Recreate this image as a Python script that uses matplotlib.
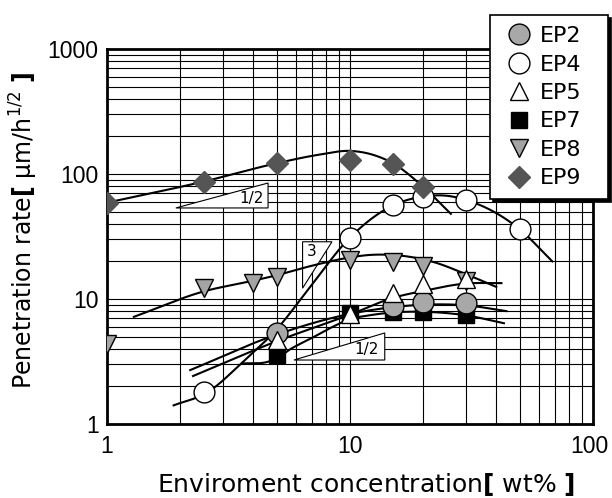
import numpy as np
import matplotlib
matplotlib.use("Agg")
import matplotlib.pyplot as plt
import matplotlib.transforms as mtransforms
from matplotlib.ticker import LogLocator, NullFormatter, FuncFormatter

# ---------------- data ----------------
ep2_x = [5, 15, 20, 30]
ep2_y = [5.35, 8.8, 9.5, 9.3]
ep4_x = [2.5, 10, 15, 20, 30, 50]
ep4_y = [1.8, 31, 56, 66, 62, 36]
ep5_x = [5, 10, 15, 20, 30]
ep5_y = [4.7, 7.6, 11.2, 13.2, 14.5]
ep7_x = [5, 10, 15, 20, 30]
ep7_y = [3.56, 7.7, 7.8, 7.9, 7.4]
ep8_x = [1, 2.5, 4, 5, 10, 15, 20, 30]
ep8_y = [4.4, 12.2, 13.4, 15.0, 20.5, 19.8, 18.3, 14.0]
ep9_x = [1, 2.5, 5, 10, 15, 20]
ep9_y = [59, 87, 122, 130, 120, 78]

# trend curves
ep2_curve_x = [2.2, 5, 10, 15, 20, 30, 44]
ep2_curve_y = [2.7, 5.2, 7.6, 8.6, 9.0, 8.9, 8.0]
ep4_curve_x = [1.88, 2.6, 3.6, 5.1, 6.7, 10, 15, 20, 25, 30, 50, 68]
ep4_curve_y = [1.41, 1.8, 3.1, 6.0, 11.8, 31, 56, 66, 67, 62, 36, 20]
ep5_curve_x = [2.26, 5, 10, 15, 20, 30, 42]
ep5_curve_y = [2.42, 4.6, 7.5, 10.2, 11.6, 13.3, 13.4]
ep7_curve_x = [3.6, 4.6, 5.0, 5.6, 7, 8.5, 10, 12, 15, 20, 30, 43]
ep7_curve_y = [3.05, 3.15, 3.35, 3.9, 4.9, 6.0, 6.9, 7.4, 7.8, 7.9, 7.4, 6.4]
ep8_curve_x = [1.29, 2.5, 4, 5, 7, 10, 12, 15, 22, 30, 40]
ep8_curve_y = [7.2, 11.5, 14.0, 15.5, 18.5, 21.5, 22.5, 22.5, 19.8, 15.8, 12.5]
ep9_curve_x = [1, 2.5, 5, 7.5, 10, 12.5, 15, 20, 26]
ep9_curve_y = [59, 87, 122, 143, 153, 142, 122, 79, 48]

series_labels = ["EP2", "EP4", "EP5", "EP7", "EP8", "EP9"]
x_ticks = [1, 10, 100]
y_ticks = [1, 10, 100, 1000]

# slope guide triangles (annotations)
guide_top_x = [1.92, 4.6, 4.6]
guide_top_y = [53.5, 84.7, 53.5]
guide_bot_x = [5.88, 13.9, 13.9]
guide_bot_y = [3.25, 5.35, 3.25]
guide_three_x = [6.38, 8.43, 6.38]
guide_three_y = [28.7, 28.7, 12.2]

plt.rcParams["font.family"] = ["DejaVu Sans"]
plt.rcParams["mathtext.fontset"] = "dejavusans"


def smooth_curve(xs, ys, n=300):
    lx = np.log10(np.asarray(xs, float))
    ly = np.log10(np.asarray(ys, float))
    m = np.gradient(ly, lx)
    t = np.linspace(lx[0], lx[-1], n)
    idx = np.clip(np.searchsorted(lx, t) - 1, 0, len(lx) - 2)
    h = lx[idx + 1] - lx[idx]
    s = (t - lx[idx]) / h
    h00 = 2 * s**3 - 3 * s**2 + 1
    h10 = s**3 - 2 * s**2 + s
    h01 = -2 * s**3 + 3 * s**2
    h11 = s**3 - s**2
    y = h00 * ly[idx] + h10 * h * m[idx] + h01 * ly[idx + 1] + h11 * h * m[idx + 1]
    return 10**t, 10**y


fig = plt.figure(figsize=(6.12, 4.98), dpi=100)
ax = fig.add_axes([107 / 612, 1 - 424 / 498, 486 / 612, 375 / 498])
ax.set_xscale("log")
ax.set_yscale("log")
ax.set_xlim(1, 100)
ax.set_ylim(1, 1000)

for axis in (ax.xaxis, ax.yaxis):
    axis.set_major_locator(LogLocator(base=10))
    axis.set_minor_locator(LogLocator(base=10, subs=np.arange(2, 10)))
    axis.set_minor_formatter(NullFormatter())
    axis.set_major_formatter(FuncFormatter(lambda v, p: f"{v:g}"))
ax.set_xticks(x_ticks)
ax.set_yticks(y_ticks)

ax.grid(True, which="both", color="black", lw=0.8)
ax.set_axisbelow(True)
ax.tick_params(which="both", length=0, labelsize=16.5)
ax.tick_params(axis="x", pad=8)
ax.tick_params(axis="y", pad=6)
for lab in ax.get_xticklabels() + ax.get_yticklabels():
    lab.set_fontfamily("Liberation Sans")
for sp in ax.spines.values():
    sp.set_linewidth(2)

# slope guides
for gx, gy in ((guide_top_x, guide_top_y), (guide_bot_x, guide_bot_y),
               (guide_three_x, guide_three_y)):
    ax.fill(gx, gy, facecolor="white", edgecolor="black", lw=0.8, zorder=2.5)
ax.text(3.95, 64, "1/2", fontsize=11, ha="center", va="center", zorder=2.6)
ax.text(11.7, 3.91, "1/2", fontsize=11, ha="center", va="center", zorder=2.6)
ax.text(6.98, 23.8, "3", fontsize=11, ha="center", va="center", zorder=2.6)

# curves
for cx, cy in ((ep2_curve_x, ep2_curve_y), (ep4_curve_x, ep4_curve_y),
               (ep5_curve_x, ep5_curve_y), (ep7_curve_x, ep7_curve_y),
               (ep8_curve_x, ep8_curve_y), (ep9_curve_x, ep9_curve_y)):
    sx, sy = smooth_curve(cx, cy)
    ax.plot(sx, sy, color="black", lw=1.5, zorder=3)

# markers
h2, = ax.plot(ep2_x, ep2_y, ls="none", marker="o", ms=15, mfc="#a8a8a8",
              mec="black", mew=1, zorder=5, label=series_labels[0])
h4, = ax.plot(ep4_x, ep4_y, ls="none", marker="o", ms=15, mfc="white",
              mec="black", mew=1, zorder=4, label=series_labels[1])
h5, = ax.plot(ep5_x, ep5_y, ls="none", marker="^", ms=13, mfc="white",
              mec="black", mew=1, zorder=6, label=series_labels[2])
h7, = ax.plot(ep7_x, ep7_y, ls="none", marker="s", ms=11, mfc="black",
              mec="black", mew=1, zorder=4.5, label=series_labels[3])
h8, = ax.plot(ep8_x, ep8_y, ls="none", marker="v", ms=13, mfc="#a4a4a4",
              mec="black", mew=1, zorder=4.2, label=series_labels[4])
h9, = ax.plot(ep9_x, ep9_y, ls="none", marker="D", ms=11.5, mfc="#555555",
              mec="#555555", mew=1, zorder=6.5, label=series_labels[5])

ax.set_xlabel("Enviroment concentration$\\mathbf{[}$ wt% $\\mathbf{]}$", fontsize=18)
ax.xaxis.set_label_coords(0.533, -0.16)
ax.xaxis.label.set_verticalalignment("center")
ax.set_ylabel("Penetration rate$\\mathbf{[}$ μm/h$^{1/2}$ $\\mathbf{]}$", fontsize=17)
ax.yaxis.set_label_coords(-0.171, 0.515)
ax.yaxis.label.set_verticalalignment("center")

leg = ax.legend(handles=[h2, h4, h5, h7, h8, h9], loc="upper left",
                bbox_to_anchor=(490 / 612, 1 - 15 / 498, 118 / 612, 0),
                bbox_transform=fig.transFigure, mode="expand", borderaxespad=0,
                fontsize=16, fancybox=False, framealpha=1, edgecolor="black",
                shadow={"color": "black", "alpha": 1}, labelspacing=0.38,
                borderpad=0.5, handlelength=1.6, handletextpad=0.15, numpoints=1)
leg.get_frame().set_linewidth(1.2)
leg.set_zorder(10)

fig.canvas.draw()
# nudge the last x tick label ("100") inward so it stays inside the figure
last = [t for t in ax.get_xticklabels() if t.get_text() == "100"]
for t in last:
    t.set_transform(t.get_transform() +
                    mtransforms.ScaledTranslation(-4 / 100, 0, fig.dpi_scale_trans))

fig.savefig("out.png", dpi=100)
